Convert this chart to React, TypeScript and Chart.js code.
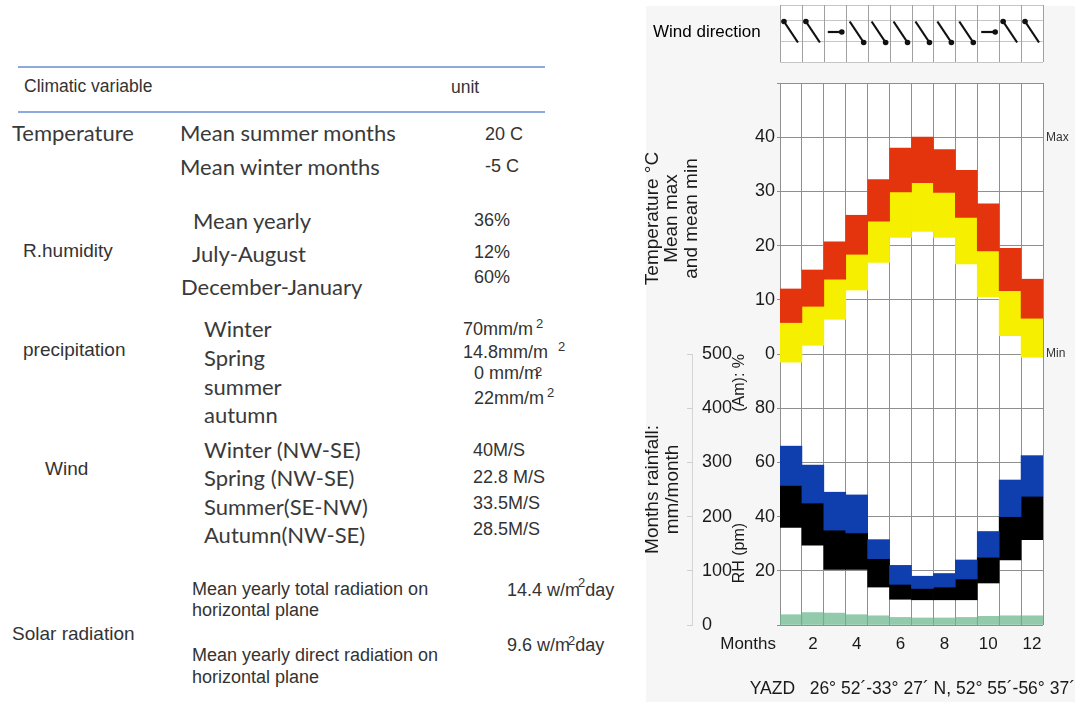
import React, { useEffect, useRef } from "react";
import { Chart, registerables } from "chart.js";

Chart.register(...registerables);

// ---------- data ----------
const months = ["1", "2", "3", "4", "5", "6", "7", "8", "9", "10", "11", "12"];
const monthTickLabels = ["", "2", "", "4", "", "6", "", "8", "", "10", "", "12"];
const tempMax = [12, 15.5, 20.7, 25.6, 32.2, 38, 40, 37.7, 33.9, 27.7, 19.5, 13.8];
const tempMean = [5.8, 8.8, 13.8, 18.4, 24.5, 29.9, 31.6, 29.8, 25.2, 19.0, 11.7, 6.6];
const tempMin = [-1.5, 1.6, 6.4, 11.8, 16.9, 21.5, 22.6, 21.5, 16.6, 10.6, 3.4, -0.6];
const rhAm = [66, 59, 49, 48, 31.5, 22, 18, 19, 24, 34.5, 53.5, 62.5];
const rhMid = [51.5, 45, 35, 34, 24.5, 15, 13.5, 14, 17, 25, 40, 47.5];
const rhPm = [36, 29.5, 20.5, 20.5, 14, 9.5, 9.3, 9.3, 9.3, 15.5, 24, 31.5];
const rainfall = [19, 23, 22, 19, 17, 14, 13, 13, 14, 16, 17, 17];
const windDirection = ["NW", "NW", "E", "SE", "SE", "SE", "SE", "SE", "SE", "E", "NW", "NW"];
const tempTicks = [0, 10, 20, 30, 40];
const rhTicks = [20, 40, 60, 80];
const rainTicks = [0, 100, 200, 300, 400, 500];
const maxMinTicks: Record<string, string> = { "40": "Max", "0": "Min" };
const locationText = "YAZD   26° 52´-33° 27´ N, 52° 55´-56° 37´";

// ---------- styles ----------
const FONT = '"Liberation Sans", Arial, sans-serif';
const GRID = "#8f8f8f";
const INK = "#1a1a1a";
const RED = "#e3340d";
const YELLOW = "#f6f000";
const BLUE = "#0f3fae";
const BLACK = "#000000";
const GREEN = "rgba(104, 182, 138, 0.72)";

const ARROW: Record<string, [number, number]> = {
  NW: [-7, -10.5],
  SE: [7, 10.5],
  E: [7, 0],
};

const decorPlugin = {
  id: "decor",
  beforeDraw(chart: any) {
    const { ctx, chartArea: a } = chart;
    ctx.save();
    ctx.fillStyle = "#ffffff";
    ctx.fillRect(a.left, a.top, a.right - a.left, a.bottom - a.top);
    ctx.restore();
  },
  afterDraw(chart: any) {
    const { ctx, chartArea: a, scales } = chart;
    const x = scales.x;
    const top = 5;
    const bottom = 62;
    const half = (x.getPixelForValue(1) - x.getPixelForValue(0)) / 2;
    ctx.save();
    ctx.fillStyle = "#ffffff";
    ctx.fillRect(a.left, top, a.right - a.left, bottom - top);
    ctx.strokeStyle = "#c6c6c6";
    ctx.lineWidth = 1;
    for (const gy of [top, 20, 41, bottom]) {
      ctx.beginPath();
      ctx.moveTo(a.left, gy + 0.5);
      ctx.lineTo(a.right, gy + 0.5);
      ctx.stroke();
    }
    ctx.strokeStyle = "#a0a0a0";
    for (let i = 0; i <= months.length; i++) {
      const px = i < months.length ? x.getPixelForValue(i) - half : x.getPixelForValue(i - 1) + half;
      ctx.beginPath();
      ctx.moveTo(Math.round(px) + 0.5, top);
      ctx.lineTo(Math.round(px) + 0.5, bottom);
      ctx.stroke();
    }
    // wind arrows
    ctx.strokeStyle = "#111";
    ctx.fillStyle = "#111";
    ctx.lineWidth = 2.2;
    windDirection.forEach((d, i) => {
      const cx = x.getPixelForValue(i);
      const cy = 32;
      const [dx, dy] = ARROW[d];
      ctx.beginPath();
      ctx.moveTo(cx - dx, cy - dy);
      ctx.lineTo(cx + dx, cy + dy);
      ctx.stroke();
      ctx.beginPath();
      ctx.arc(cx + dx, cy + dy, 2.8, 0, Math.PI * 2);
      ctx.fill();
    });
    ctx.fillStyle = "#000";
    ctx.textBaseline = "middle";
    ctx.textAlign = "left";
    ctx.font = `17px ${FONT}`;
    ctx.fillText("Wind direction", 13, 32);
    ctx.fillStyle = INK;
    ctx.textAlign = "right";
    ctx.fillText("Months", a.left - 4, 644);
    ctx.restore();
  },
};

const bar = { grouped: false, barPercentage: 1, categoryPercentage: 1, borderWidth: 0 };

function ClimateChart() {
  const ref = useRef<HTMLCanvasElement | null>(null);
  useEffect(() => {
    if (!ref.current) return;
    const tickFont = { family: FONT, size: 18 };
    const chart = new Chart(ref.current, {
      type: "bar",
      data: {
        labels: months,
        datasets: [
          { label: "Mean max", data: tempMax.map((v, i) => [tempMean[i], v]), backgroundColor: RED, yAxisID: "yT", ...bar },
          { label: "Mean min", data: tempMean.map((v, i) => [tempMin[i], v]), backgroundColor: YELLOW, yAxisID: "yT", ...bar },
          { label: "RH am", data: rhAm.map((v, i) => [rhMid[i], v]), backgroundColor: BLUE, yAxisID: "yRH", ...bar },
          { label: "RH pm", data: rhMid.map((v, i) => [rhPm[i], v]), backgroundColor: BLACK, yAxisID: "yRH", ...bar },
          { label: "Rainfall", data: rainfall.map((v) => [0, v]), backgroundColor: GREEN, yAxisID: "yRain", ...bar },
        ] as any,
      },
      options: {
        animation: false,
        responsive: false,
        layout: { padding: { top: 83, left: 0, right: 0, bottom: 0 } },
        plugins: {
          legend: { display: false },
          tooltip: { enabled: false },
          title: {
            display: true,
            position: "bottom",
            align: "end",
            text: locationText,
            color: INK,
            font: { family: FONT, size: 17.5, weight: "normal", lineHeight: "20px" },
            padding: { top: 0, bottom: 3 },
          },
        },
        scales: {
          x: {
            type: "category",
            offset: true,
            grid: { offset: true, color: GRID, drawTicks: false },
            border: { display: false },
            ticks: {
              autoSkip: false,
              maxRotation: 0,
              padding: 9,
              color: INK,
              font: { family: FONT, size: 17 },
              callback: (_v: any, i: number) => monthTickLabels[i],
            },
            afterFit: (s: any) => { s.height = 54; },
          },
          yRH: {
            position: "left",
            stack: "inner",
            stackWeight: 1,
            weight: 1,
            min: 0,
            max: 100,
            clip: false,
            ticks: {
              stepSize: 20,
              autoSkip: false,
              padding: 2,
              color: INK,
              font: tickFont,
              callback: (v: any) => (rhTicks.includes(v) ? String(v) : ""),
            },
            grid: { color: GRID, tickLength: 3, drawOnChartArea: true },
            border: { color: GRID },
            title: {
              display: true,
              text: "RH (pm)                         (Am): %",
              align: "end",
              color: INK,
              font: { family: FONT, size: 16 },
              padding: { top: 38, bottom: 0 },
            },
            afterFit: (s: any) => { s.width = 88; },
          },
          yT: {
            position: "left",
            stack: "inner",
            stackWeight: 1,
            weight: 1.5,
            min: 0,
            max: 50,
            clip: false,
            ticks: {
              stepSize: 10,
              autoSkip: false,
              padding: 2,
              color: INK,
              font: tickFont,
              callback: (v: any) => (tempTicks.includes(v) ? String(v) : ""),
            },
            grid: { color: GRID, tickLength: 3, drawOnChartArea: true },
            border: { color: GRID },
            afterFit: (s: any) => { s.width = 88; },
          },
          yRain: {
            position: "left",
            stack: "outer",
            stackWeight: 1,
            weight: 3,
            min: 0,
            max: 500,
            clip: false,
            ticks: {
              stepSize: 100,
              autoSkip: false,
              mirror: true,
              padding: 10,
              color: INK,
              font: tickFont,
              callback: (v: any) => (rainTicks.includes(v) ? String(v) : ""),
            },
            grid: { display: true, drawOnChartArea: false, drawTicks: true, tickLength: 5, color: "#cfcfcf" },
            border: { display: true, color: "#d4d4d4" },
            title: {
              display: true,
              text: ["Months rainfall:", "mm/month"],
              color: INK,
              font: { family: FONT, size: 19, lineHeight: 1.05 },
              padding: { top: 3, bottom: 0 },
            },
            afterFit: (s: any) => { s.width = 52; },
          },
          yTitle: {
            position: "left",
            stack: "outer",
            stackWeight: 1,
            weight: 3.5,
            min: 0,
            max: 50,
            ticks: { display: false },
            grid: { display: false, drawTicks: false },
            border: { display: false },
            title: {
              display: true,
              text: ["Temperature °C", "Mean max", "and mean min"],
              color: INK,
              font: { family: FONT, size: 19, lineHeight: 1.02 },
              padding: { top: 3, bottom: 0 },
            },
            afterFit: (s: any) => { s.width = 52; },
          },
          yMM: {
            position: "right",
            min: -50,
            max: 50,
            ticks: {
              stepSize: 10,
              autoSkip: false,
              padding: 3,
              color: "#333",
              font: { family: FONT, size: 12 },
              callback: (v: any) => maxMinTicks[String(v)] || "",
            },
            grid: { display: false, drawTicks: false },
            border: { display: false },
            afterFit: (s: any) => { s.width = 32; },
          },
        },
      } as any,
      plugins: [decorPlugin],
    });
    return () => chart.destroy();
  }, []);
  return (
    <canvas
      ref={ref}
      width={435}
      height={702}
      style={{ position: "absolute", left: 640, top: 0, width: 435, height: 702 }}
    />
  );
}

// ---------- table ----------
const CAL = 'Lato, "Noto Sans", sans-serif';
const ARIAL = '"Liberation Sans", Arial, sans-serif';

function T(props: any) {
  const { x, y, size = 22, fam = CAL, color = "#3a3a3a", children } = props;
  return (
    <div
      style={{
        position: "absolute",
        left: x,
        top: y,
        fontSize: size,
        fontFamily: fam,
        color,
        lineHeight: 1,
        whiteSpace: "nowrap",
        transform: "translateY(-50%)",
      }}
    >
      {children}
    </div>
  );
}

function Sup(props: any) {
  const { ml = 2, top = -7, children } = props;
  return (
    <span style={{ fontSize: 13, position: "relative", top, marginLeft: ml }}>{children}</span>
  );
}

function Table() {
  const A = ARIAL;
  const c2 = "#333";
  return (
    <>
      <div style={{ position: "absolute", left: 18, top: 66, width: 527, height: 2, background: "#8eaadc" }} />
      <div style={{ position: "absolute", left: 18, top: 111, width: 527, height: 2, background: "#8eaadc" }} />
      <T x={24} y={87} size={17.5} fam={A} color={c2}>Climatic variable</T>
      <T x={451} y={88} size={17.5} fam={A} color={c2}>unit</T>

      <T x={12} y={133}>Temperature</T>
      <T x={180} y={133}>Mean summer months</T>
      <T x={485} y={134} size={18} fam={A} color={c2}>20 C</T>
      <T x={180} y={167}>Mean winter months</T>
      <T x={485} y={166} size={18} fam={A} color={c2}>-5 C</T>

      <T x={193} y={221}>Mean yearly</T>
      <T x={474} y={220} size={18} fam={A} color={c2}>36%</T>
      <T x={23} y={250} size={19} fam={A} color={c2}>R.humidity</T>
      <T x={192} y={254}>July-August</T>
      <T x={474} y={252} size={18} fam={A} color={c2}>12%</T>
      <T x={474} y={277} size={18} fam={A} color={c2}>60%</T>
      <T x={181} y={287}>December-January</T>

      <T x={204} y={329}>Winter</T>
      <T x={463} y={329} size={18} fam={A} color={c2}>70mm/m<Sup ml={3}>2</Sup></T>
      <T x={23} y={349} size={19} fam={A} color={c2}>precipitation</T>
      <T x={204} y={358}>Spring</T>
      <T x={463} y={352} size={18} fam={A} color={c2}>14.8mm/m<Sup ml={10}>2</Sup></T>
      <T x={474} y={373} size={18} fam={A} color={c2}>0 mm/m<Sup ml={-4} top={-3}>2</Sup></T>
      <T x={204} y={387}>summer</T>
      <T x={474} y={398} size={18} fam={A} color={c2}>22mm/m<Sup ml={3}>2</Sup></T>
      <T x={204} y={415}>autumn</T>

      <T x={204} y={450}>Winter (NW-SE)</T>
      <T x={473} y={450} size={18} fam={A} color={c2}>40M/S</T>
      <T x={45} y={468} size={19} fam={A} color={c2}>Wind</T>
      <T x={204} y={478}>Spring (NW-SE)</T>
      <T x={473} y={477} size={18} fam={A} color={c2}>22.8 M/S</T>
      <T x={204} y={507}>Summer(SE-NW)</T>
      <T x={473} y={503} size={18} fam={A} color={c2}>33.5M/S</T>
      <T x={204} y={535}>Autumn(NW-SE)</T>
      <T x={473} y={529} size={18} fam={A} color={c2}>28.5M/S</T>

      <T x={192} y={589} size={18} fam={A} color={c2}>Mean yearly total radiation on</T>
      <T x={192} y={610} size={18} fam={A} color={c2}>horizontal plane</T>
      <T x={507} y={590} size={18} fam={A} color={c2}>14.4 w/m<Sup ml={-2} top={-9}>2</Sup>day</T>
      <T x={12} y={633} size={19} fam={A} color={c2}>Solar radiation</T>
      <T x={507} y={645} size={18} fam={A} color={c2}>9.6 w/m<Sup ml={-2} top={-6}>2</Sup>day</T>
      <T x={192} y={655} size={18} fam={A} color={c2}>Mean yearly direct radiation on</T>
      <T x={192} y={677} size={18} fam={A} color={c2}>horizontal plane</T>
    </>
  );
}

export default function App() {
  return (
    <div
      style={{
        position: "fixed",
        left: 0,
        top: 0,
        width: 1075,
        height: 702,
        background: "#ffffff",
        overflow: "hidden",
      }}
    >
      <div style={{ position: "absolute", left: 646, top: 6, width: 429, height: 696, background: "#f6f6f6" }} />
      <Table />
      <ClimateChart />
    </div>
  );
}
